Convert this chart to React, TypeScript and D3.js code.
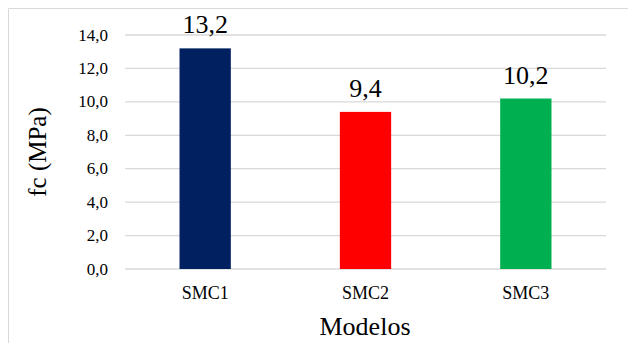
import React from "react";
import * as d3 from "d3";

const categories = ["SMC1", "SMC2", "SMC3"];
const values = [13.2, 9.4, 10.2];
const colors = ["#002060", "#FF0000", "#00B050"];
const yTicks = [0, 2, 4, 6, 8, 10, 12, 14];

const W = 628;
const H = 343;
const left = 125;
const right = 606;
const top = 35;
const bottom = 269;
const FONT = "Liberation Serif";

const fmt = (v: number) => v.toFixed(1).replace(".", ",");

export default function App() {
  const x = d3.scaleBand<string>().domain(categories).range([left, right]).paddingInner(0.68).paddingOuter(0.34);
  const y = d3.scaleLinear().domain([0, 14]).range([bottom, top]);

  return (
    <svg width={W} height={H} style={{ position: "absolute", left: 0, top: 0 }}>
      <rect x={0} y={0} width={W} height={H} fill="#fff" />
      <path d={`M8.5,${H} V8.5 H${W}`} fill="none" stroke="#d9d9d9" strokeWidth={1} />
      {yTicks.map((t) => (
        <g key={t}>
          <line x1={left} x2={right} y1={y(t)} y2={y(t)} stroke="#d9d9d9" strokeWidth={1.3} />
          <text x={108} y={y(t) + 5.5} textAnchor="end" style={{ fontFamily: `"${FONT}"` }} fontSize={17} fill="#000">
            {fmt(t)}
          </text>
        </g>
      ))}
      {categories.map((c, i) => (
        <g key={c}>
          <rect x={x(c)} y={y(values[i])} width={x.bandwidth()} height={y(0) - y(values[i])} fill={colors[i]} />
          <text x={x(c)! + x.bandwidth() / 2} y={y(values[i]) - 15} textAnchor="middle" style={{ fontFamily: `"${FONT}"` }} fontSize={26} fill="#000">
            {fmt(values[i])}
          </text>
          <text x={x(c)! + x.bandwidth() / 2} y={299} textAnchor="middle" style={{ fontFamily: `"${FONT}"` }} fontSize={18} fill="#000">
            {c}
          </text>
        </g>
      ))}
      <text transform="translate(46,152) rotate(-90)" textAnchor="middle" style={{ fontFamily: `"${FONT}"` }} fontSize={25} fill="#000">
        fc (MPa)
      </text>
      <text x={365} y={335} textAnchor="middle" style={{ fontFamily: `"${FONT}"` }} fontSize={26} fill="#000">
        Modelos
      </text>
    </svg>
  );
}
